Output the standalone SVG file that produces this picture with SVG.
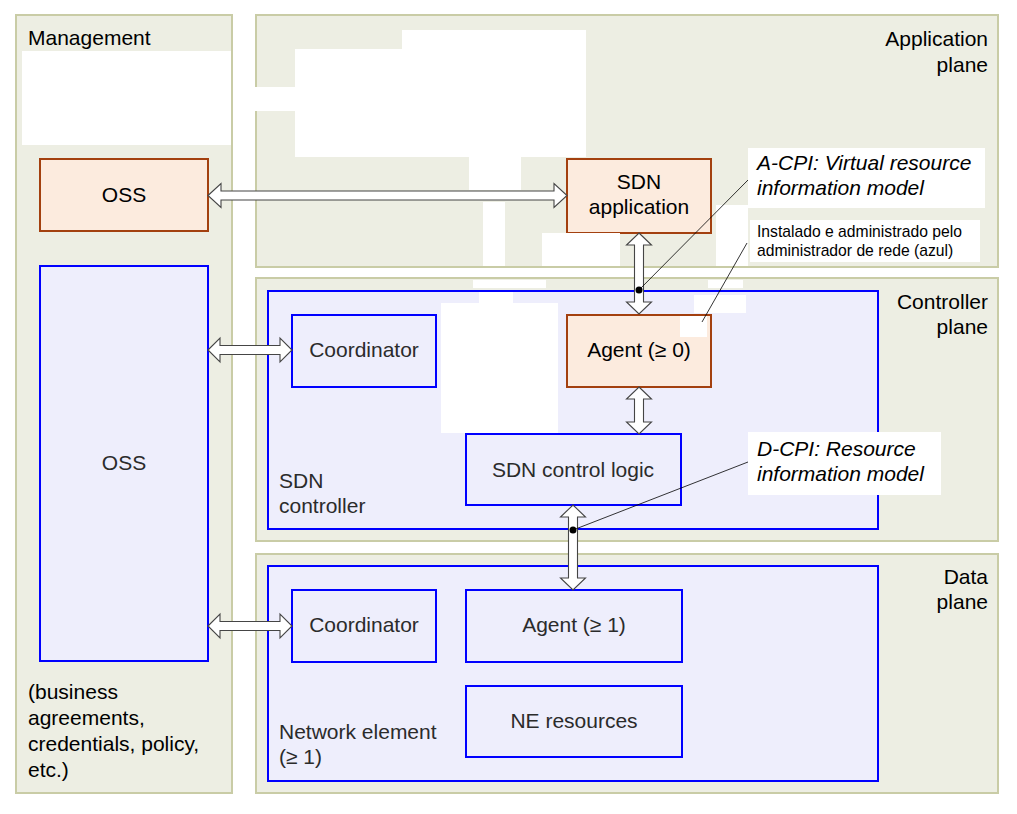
<svg xmlns="http://www.w3.org/2000/svg" width="1017" height="814" viewBox="0 0 1017 814">
<style>
.panel{fill:#edeee3;stroke:#c9cca6;stroke-width:2}
.orange{fill:#fcebde;stroke:#a3400f;stroke-width:2}
.blue{fill:#eeeefc;stroke:#0000ff;stroke-width:2}
.wp{fill:#ffffff}
.t{font-family:"Liberation Sans",Arial,sans-serif;font-size:21px;fill:#000}
.tb{font-family:"Liberation Sans",Arial,sans-serif;font-size:21px;fill:#2b2b2b}
.ti{font-family:"Liberation Sans",Arial,sans-serif;font-size:21px;font-style:italic;fill:#000}
.ts{font-family:"Liberation Sans",Arial,sans-serif;font-size:15.7px;fill:#000}
.c{text-anchor:middle}
.r{text-anchor:end}
.arrow{fill:#ffffff;stroke:#454545;stroke-width:1.1}
.lead{stroke:#000;stroke-width:0.8;fill:none}
</style>
<rect width="1017" height="814" fill="#ffffff"/>
<g id="panels">
<rect id="management" class="panel" x="16" y="15" width="216" height="778"/>
<rect id="application-plane" class="panel" x="256" y="15" width="742" height="252"/>
<rect id="controller-plane" class="panel" x="256" y="278" width="742" height="263"/>
<rect id="data-plane" class="panel" x="256" y="554" width="742" height="239"/>
</g>
<g id="sdn-controller"><rect class="blue" x="268" y="291" width="610" height="238"/></g>
<g id="network-element"><rect class="blue" x="268" y="566" width="610" height="215"/></g>
<g id="oss-top"><rect class="orange" x="40" y="159" width="168" height="72"/></g>
<g id="oss-blue"><rect class="blue" x="40" y="266" width="168" height="395"/></g>
<g id="sdn-application"><rect class="orange" x="567" y="159" width="144" height="74"/></g>
<g id="agent-0"><rect class="orange" x="567" y="315" width="144" height="72"/></g>
<g id="coordinator-ctrl"><rect class="blue" x="292" y="315" width="144" height="72"/></g>
<g id="sdn-control-logic"><rect class="blue" x="466" y="434" width="215" height="71"/></g>
<g id="coordinator-ne"><rect class="blue" x="292" y="590" width="144" height="72"/></g>
<g id="agent-1"><rect class="blue" x="466" y="590" width="216" height="72"/></g>
<g id="ne-resources"><rect class="blue" x="466" y="686" width="216" height="71"/></g>
<g id="white-patches">
<rect class="wp" x="22" y="51" width="209" height="94"/>
<rect class="wp" x="402" y="30" width="184" height="20"/>
<rect class="wp" x="295" y="49" width="291" height="108"/>
<rect class="wp" x="255" y="87" width="40" height="24"/>
<rect class="wp" x="469" y="156" width="52" height="34"/>
<rect class="wp" x="483" y="202" width="22" height="64"/>
<rect class="wp" x="542" y="233" width="78" height="33"/>
<rect class="wp" x="716" y="205" width="32" height="61"/>
<rect class="wp" x="473" y="280" width="73" height="8"/>
<rect class="wp" x="479" y="292" width="34" height="12"/>
<rect class="wp" x="441" y="303" width="117" height="130"/>
<rect class="wp" x="708" y="280" width="35" height="8"/>
<rect class="wp" x="694" y="295" width="52" height="18"/>
<rect class="wp" x="680" y="316" width="27" height="21"/>
<rect class="wp" x="748" y="148" width="237" height="60"/>
<rect class="wp" x="750" y="220" width="230" height="42"/>
<rect class="wp" x="748" y="432" width="193" height="63"/>
</g>
<g id="connectors">
<polygon class="arrow" points="208,195.5 221,183.5 221,191 554,191 554,183.5 567,195.5 554,207.5 554,200 221,200 221,207.5"/>
<polygon class="arrow" points="208,350 220,338 220,345.5 280,345.5 280,338 292,350 280,362 280,354.5 220,354.5 220,362"/>
<polygon class="arrow" points="208,626 220,614 220,621.5 280,621.5 280,614 292,626 280,638 280,630.5 220,630.5 220,638"/>
<polygon class="arrow" points="639,233 651.5,245 643.5,245 643.5,302 651.5,302 639,314 626.5,302 634.5,302 634.5,245 626.5,245"/>
<polygon class="arrow" points="639,387 651.5,399 643.5,399 643.5,422 651.5,422 639,434 626.5,422 634.5,422 634.5,399 626.5,399"/>
<polygon class="arrow" points="573,505 585.5,517 577.5,517 577.5,578 585.5,578 573,590 560.5,578 568.5,578 568.5,517 560.5,517"/>
<line class="lead" x1="639" y1="290" x2="748" y2="180"/>
<line class="lead" x1="747" y1="243" x2="702" y2="322"/>
<line class="lead" x1="573" y1="530" x2="748" y2="462"/>
<circle cx="639" cy="290" r="3.5" fill="#000"/>
<circle cx="573" cy="530" r="3.5" fill="#000"/>
</g>
<g id="labels">
<text class="t" x="28" y="45">Management</text>
<text class="t r" x="988" y="46">Application</text>
<text class="t r" x="988" y="72">plane</text>
<text class="t r" x="988" y="309">Controller</text>
<text class="t r" x="988" y="334">plane</text>
<text class="t r" x="988" y="584">Data</text>
<text class="t r" x="988" y="609">plane</text>
<text class="t c" x="124" y="202">OSS</text>
<text class="tb c" x="124" y="470">OSS</text>
<text class="t c" x="639" y="189">SDN</text>
<text class="t c" x="639" y="214">application</text>
<text class="t c" x="639" y="357">Agent (≥ 0)</text>
<text class="tb c" x="364" y="357">Coordinator</text>
<text class="tb c" x="573" y="477">SDN control logic</text>
<text class="tb" x="279" y="488">SDN</text>
<text class="tb" x="279" y="513">controller</text>
<text class="tb c" x="364" y="632">Coordinator</text>
<text class="tb c" x="574" y="632">Agent (≥ 1)</text>
<text class="tb c" x="574" y="728">NE resources</text>
<text class="tb" x="279" y="739">Network element</text>
<text class="tb" x="279" y="764">(≥ 1)</text>
<text class="t" x="28" y="699">(business</text>
<text class="t" x="28" y="725">agreements,</text>
<text class="t" x="28" y="751">credentials, policy,</text>
<text class="t" x="28" y="777">etc.)</text>
<text class="ti" x="757" y="170">A-CPI: Virtual resource</text>
<text class="ti" x="757" y="195">information model</text>
<text class="ts" x="757" y="237">Instalado e administrado pelo</text>
<text class="ts" x="757" y="256">administrador de rede (azul)</text>
<text class="ti" x="757" y="456">D-CPI: Resource</text>
<text class="ti" x="757" y="481">information model</text>
</g>
</svg>
